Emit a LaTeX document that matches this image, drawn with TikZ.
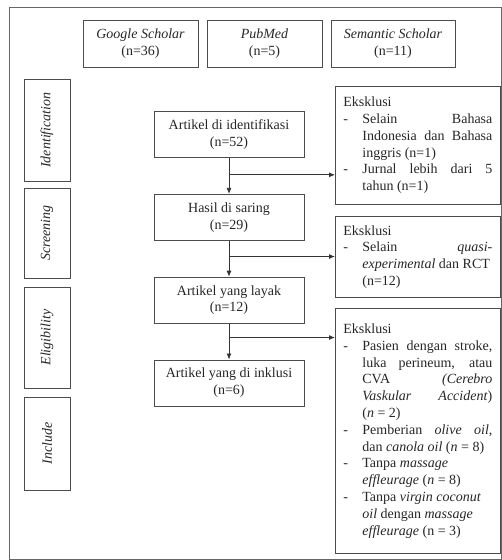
\documentclass[tikz,border=0pt]{standalone}
\usepackage{fontspec}
\setmainfont{Liberation Serif}
\usetikzlibrary{arrows.meta, positioning}

\newcommand{\dashitem}{\par\hangindent=19pt\hangafter=1\noindent\makebox[19pt][l]{-}}

\begin{document}
\begin{tikzpicture}[
        x=1pt, y=-1pt,
        every node/.style={font=\fontsize{14}{16.8}\selectfont, text=black!85},
        source/.style={rectangle, draw=black!70, line width=0.8pt, align=center, minimum height=47pt},
        stage/.style={rectangle, draw=black!70, line width=0.8pt, align=center, minimum width=150pt, minimum height=46pt},
        phase/.style={rectangle, draw=black!70, line width=0.8pt, rotate=90, minimum height=46pt, font=\fontsize{14}{16.8}\selectfont\itshape},
        exclude/.style={rectangle, draw=black!70, line width=0.8pt, anchor=north west, align=justify, text width=149pt, inner xsep=8pt, inner ysep=7pt},
        arrow/.style={-{Latex[length=6pt, width=5pt]}, line width=0.8pt, draw=black!80},
        node distance=36pt,
        ]
    \useasboundingbox (0,0) rectangle (502,560);
    \draw[black!60, line width=0.8pt] (9,7) rectangle (501,559);

    % Sources
    \node[source, minimum width=115pt] (google) at (140.5,43.5) {\textit{Google Scholar}\\(n=36)};
    \node[source, minimum width=115pt] (pubmed) at (264.5,43.5) {\textit{PubMed}\\(n=5)};
    \node[source, minimum width=124pt] (semantic) at (393,43.5) {\textit{Semantic Scholar}\\(n=11)};

    % Phases
    \node[phase, minimum width=102pt] (identification) at (47,130) {Identification};
    \node[phase, minimum width=90pt] (screening) at (47,233) {Screening};
    \node[phase, minimum width=101pt] (eligibility) at (47,337.5) {Eligibility};
    \node[phase, minimum width=93pt] (include) at (47,443.5) {Include};

    % Stages
    \node[stage] (ident) at (229,134.5) {Artikel di identifikasi\\(n=52)};
    \node[stage, below=of ident] (saring) {Hasil di saring\\(n=29)};
    \node[stage, below=of saring] (layak) {Artikel yang layak\\(n=12)};
    \node[stage, below=of layak] (inklusi) {Artikel yang di inklusi\\(n=6)};

    % Exclusions
    \node[exclude, minimum height=118pt] (excl1) at (335,86) {Eksklusi
        \dashitem Selain Bahasa\linebreak Indonesia dan Bahasa\linebreak inggris (n=1)
        \dashitem Jurnal lebih dari 5\linebreak tahun (n=1)\par};
    \node[exclude, minimum height=81pt] (excl2) at (335,216) {Eksklusi
        \dashitem Selain \textit{quasi-}\linebreak\textit{experimental} dan RCT\newline (n=12)\par};
    \node[exclude, minimum height=245pt] (excl3) at (335,308) {Eksklusi
        \dashitem Pasien dengan stroke,\linebreak luka perineum, atau\linebreak CVA \textit{(Cerebro}\linebreak \textit{Vaskular Accident})\linebreak (\textit{n} = 2)
        \dashitem Pemberian \textit{olive oil},\linebreak dan \textit{canola oil} (\textit{n} = 8)
        \dashitem Tanpa \textit{massage}\newline \textit{effleurage} (\textit{n} = 8)
        \dashitem Tanpa \textit{virgin coconut}\newline \textit{oil} dengan \textit{massage}\newline \textit{effleurage} (n = 3)\par};

    % Arrows
    \draw[arrow] (ident) -- coordinate[pos=0.47] (b1) (saring);
    \draw[arrow] (saring) -- coordinate[pos=0.44] (b2) (layak);
    \draw[arrow] (layak) -- coordinate[pos=0.39] (b3) (inklusi);
    \draw[arrow] (b1) -- (b1 -| excl1.west);
    \draw[arrow] (b2) -- (b2 -| excl2.west);
    \draw[arrow] (b3) -- (b3 -| excl3.west);

\end{tikzpicture}
\end{document}
